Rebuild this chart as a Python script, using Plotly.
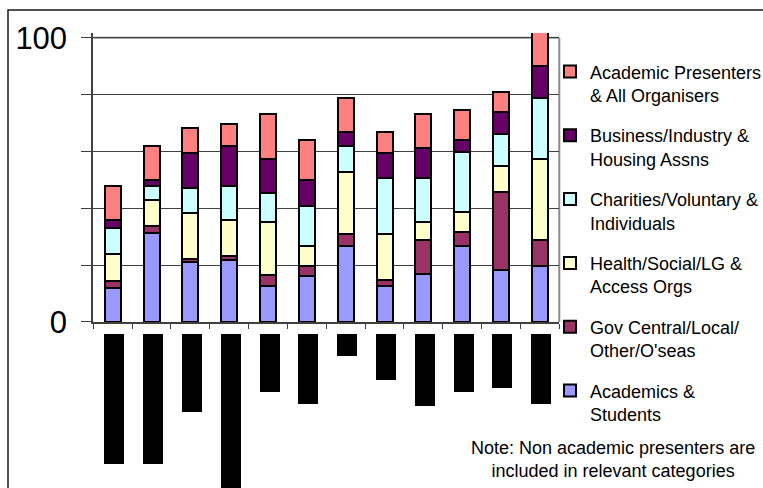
import plotly.graph_objects as go

# Twelve events, audience make-up (%) by sector, stacked bottom to top
events = ["E1", "E2", "E3", "E4", "E5", "E6", "E7", "E8", "E9", "E10", "E11", "E12"]

academics = [11.8, 31.3, 21.1, 21.7, 12.7, 16.1, 26.7, 12.7, 16.8, 26.7, 18.2, 19.6]
gov = [2.6, 2.4, 0.9, 1.5, 4.0, 3.5, 4.4, 2.0, 12.0, 4.8, 27.4, 9.2]
health = [9.4, 9.2, 16.2, 12.6, 18.5, 7.1, 21.7, 16.2, 6.4, 7.2, 9.3, 28.7]
charities = [9.1, 4.9, 9.0, 12.1, 10.0, 14.0, 9.2, 19.6, 15.3, 21.0, 11.2, 21.2]
business = [2.9, 2.1, 12.4, 14.1, 12.3, 9.2, 4.9, 8.8, 10.8, 4.2, 7.6, 11.4]
presenters = [12.1, 12.1, 8.7, 7.7, 15.7, 14.1, 12.0, 7.6, 11.9, 10.8, 7.3, 12.5]

# Lengths of the blacked-out category labels under the axis
label_len = [130, 130, 78, 160, 58, 70, 22, 46, 72, 58, 54, 70]

series = [
    ("Academics &<br>Students", academics, "#9999FF"),
    ("Gov Central/Local/<br>Other/O'seas", gov, "#993366"),
    ("Health/Social/LG &<br>Access Orgs", health, "#FFFFCC"),
    ("Charities/Voluntary &<br>Individuals", charities, "#CCFFFF"),
    ("Business/Industry &<br>Housing Assns", business, "#660066"),
    ("Academic Presenters<br>& All Organisers", presenters, "#FF8080"),
]

FONT = "Arial, Liberation Sans, sans-serif"

fig = go.Figure()
for i, (name, vals, color) in enumerate(series):
    fig.add_trace(go.Bar(
        x=events, y=vals, name=name, legendgroup=f"g{i}",
        legendrank=100 - i,
        width=0.41,
        marker=dict(color=color, line=dict(color="black", width=2)),
    ))

fig.add_trace(go.Bar(
    x=events, y=[-v for v in label_len], yaxis="y2",
    width=0.515, offset=-0.22, showlegend=False,
    marker=dict(color="black", line=dict(width=0)),
))

fig.update_layout(
    width=763, height=488,
    margin=dict(l=0, r=0, t=0, b=0, autoexpand=False),
    paper_bgcolor="white", plot_bgcolor="white",
    barmode="stack",
    font=dict(family=FONT, color="black"),
    xaxis=dict(
        domain=[0.1223, 0.7330], range=[-0.5, 11.5],
        showticklabels=False, showgrid=False,
        ticks="outside", tickson="boundaries", ticklen=5, tickwidth=1,
        tickcolor="#404040",
        showline=True, linecolor="#404040", linewidth=2,
        anchor="y", automargin=False,
    ),
    yaxis=dict(
        domain=[0.3402, 0.9324], range=[0, 101.65],
        tickvals=[0, 20, 40, 60, 80, 100],
        ticktext=["0", "", "", "", "", "100"],
        tickfont=dict(size=31, family=FONT, color="black"),
        ticks="outside", ticklen=10, tickwidth=1, tickcolor="#404040",
        ticklabelstandoff=8,
        showgrid=True, gridcolor="#404040", gridwidth=1,
        showline=True, linecolor="#404040", linewidth=2,
        zeroline=False, automargin=False,
    ),
    yaxis2=dict(
        domain=[0, 0.3156], range=[-154, 0],
        visible=False, anchor="x", showgrid=False, zeroline=False,
    ),
    legend=dict(
        x=550 / 763, y=0.8908, xanchor="left", yanchor="top",
        traceorder="grouped", tracegroupgap=14,
        valign="top",
        font=dict(size=18, family=FONT, color="black"),
        bgcolor="rgba(0,0,0,0)",
    ),
    showlegend=True,
)

# Plot-area border: grey top and right edges
fig.add_shape(type="line", xref="x domain", yref="y", x0=0, x1=1, y0=100, y1=100,
              line=dict(color="#8C8C8C", width=2), layer="below")
fig.add_shape(type="line", xref="x domain", yref="y", x0=1, x1=1, y0=0, y1=100,
              line=dict(color="#8C8C8C", width=2), layer="below")

# Outer frame of the chart
fig.add_shape(type="rect", xref="paper", yref="paper",
              x0=8 / 763, x1=1.05, y0=-0.05, y1=1 - 10 / 488,
              line=dict(color="#1A1A1A", width=1.5), fillcolor="rgba(0,0,0,0)")

fig.add_annotation(
    xref="paper", yref="paper", x=0.804, y=0.0574,
    text="Note: Non academic presenters are<br>included in relevant categories",
    showarrow=False, xanchor="center", yanchor="middle", align="center",
    font=dict(size=18, family=FONT, color="black"),
)

fig.write_html("out.html")
